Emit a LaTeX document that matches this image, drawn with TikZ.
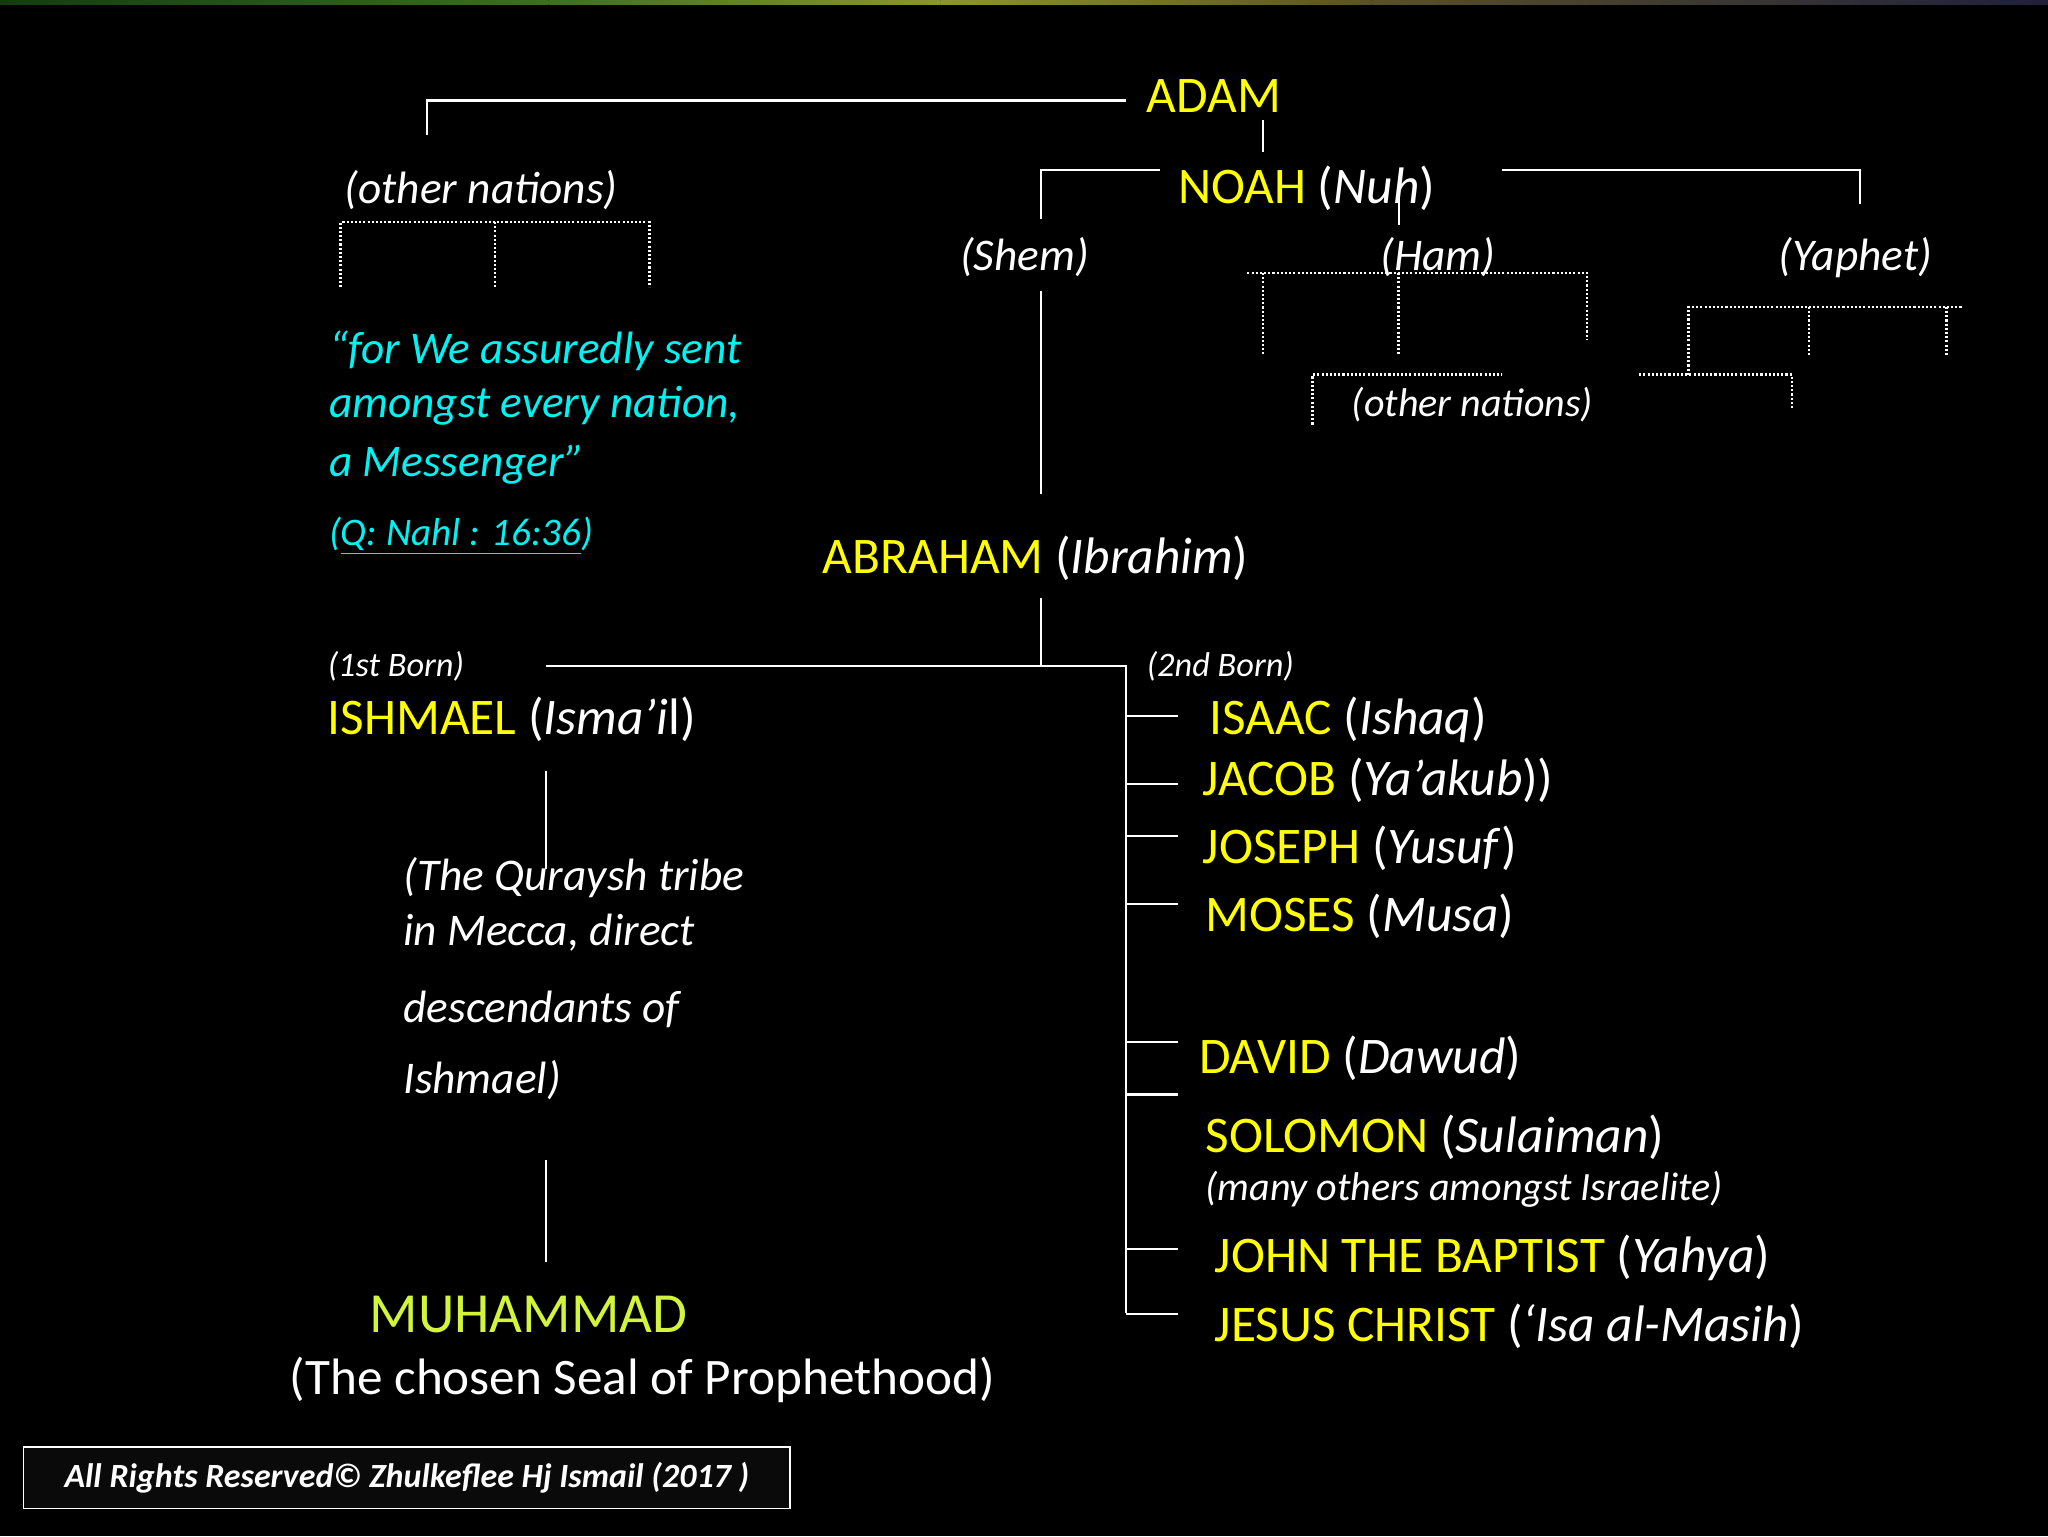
\documentclass[tikz,border=0pt]{standalone}
\usepackage{fontspec}
\setmainfont{Carlito}
\usepackage{xcolor}
\usetikzlibrary{calc}

\definecolor{nameyellow}{HTML}{FFFF00}
\definecolor{sealgreen}{HTML}{D2F53C}
\definecolor{versecyan}{HTML}{00F2F2}

\begin{document}
\begin{tikzpicture}[x=1pt, y=-1pt,
  every node/.style={inner sep=0pt, outer sep=0pt, text=white, anchor=base west},
  prophet/.style={font=\fontsize{39.3}{45}\selectfont},
  branch/.style={font=\fontsize{34.7}{40}\selectfont\itshape},
  born/.style={font=\fontsize{26.3}{31}\selectfont\itshape},
  link/.style={draw=white, line width=1.8pt},
  dots/.style={draw=white, line width=2.2pt, dash pattern=on 1.6pt off 1.6pt}]

% background and top bar
\fill[black] (0,0) rectangle (1568,1176);
\useasboundingbox (0,0) rectangle (1568,1176);
\shade[left color={rgb,255:red,20;green,60;blue,15}, right color={rgb,255:red,60;green,110;blue,40}] (0,0) rectangle (420,3.5);
\shade[left color={rgb,255:red,60;green,110;blue,40}, right color={rgb,255:red,140;green,150;blue,40}] (420,0) rectangle (720,3.5);
\shade[left color={rgb,255:red,140;green,150;blue,40}, right color={rgb,255:red,90;green,80;blue,40}] (720,0) rectangle (1050,3.5);
\shade[left color={rgb,255:red,90;green,80;blue,40}, right color={rgb,255:red,30;green,32;blue,60}] (1050,0) rectangle (1568,3.5);

% names
\node[prophet, text=nameyellow] (adam) at (878,86) {ADAM};
\node[prophet] (noah) at (902,156) {{\color{nameyellow}NOAH} (\textit{Nuh})};
\node[branch] (others1) at (264,156) {(other nations)};
\node[branch] (shem) at (735,207) {(Shem)};
\node[branch] (ham) at (1057,207) {(Ham)};
\node[branch] (yaphet) at (1362,207) {(Yaphet)};
\node[font=\fontsize{30.7}{36}\selectfont\itshape] (others2) at (1035,319) {(other nations)};

\node[branch, text=versecyan] (verse1) at (252,278) {“for We assuredly sent};
\node[branch, text=versecyan] (verse2) at (252,320) {amongst every nation,};
\node[branch, text=versecyan] (verse3) at (252,365) {a Messenger”};
\node[font=\fontsize{29.9}{35}\selectfont\itshape, text=versecyan] (surah) at (252,418) {(\underline{Q: Nahl : 16:36})};

\node[prophet] (abraham) at (630,439) {{\color{nameyellow}ABRAHAM} (\textit{Ibrahim})};
\node[born] (first) at (251,518) {(1st Born)};
\node[born] (second) at (878,518) {(2nd Born)};
\node[prophet] (ishmael) at (251,562) {{\color{nameyellow}ISHMAEL} (\textit{Isma’i}l)};

\node[branch] (quraysh1) at (309,682) {(The Quraysh tribe};
\node[branch] (quraysh2) at (309,724) {in Mecca, direct};
\node[branch] (quraysh3) at (309,783) {descendants of};
\node[branch] (quraysh4) at (309,837) {Ishmael)};

\node[font=\fontsize{43.4}{50}\selectfont, text=sealgreen] (muhammad) at (283,1020) {MUHAMMAD};
\node[font=\fontsize{39.2}{46}\selectfont] (seal) at (222,1068) {(The chosen Seal of Prophethood)};

\node[prophet] (isaac) at (926,562) {{\color{nameyellow}ISAAC} (\textit{Ishaq})};
\node[prophet] (jacob) at (921,609) {{\color{nameyellow}JACOB} (\textit{Ya’akub}))};
\node[prophet] (joseph) at (921,661) {{\color{nameyellow}JOSEPH} (\textit{Yusuf})};
\node[prophet] (moses) at (923,713) {{\color{nameyellow}MOSES} (\textit{Musa})};
\node[prophet] (david) at (918,822) {{\color{nameyellow}DAVID} (\textit{Dawud})};
\node[prophet] (solomon) at (923,882) {{\color{nameyellow}SOLOMON} (\textit{Sulaiman})};
\node[font=\fontsize{30.7}{36}\selectfont\itshape] (israelite) at (923,919) {(many others amongst Israelite)};
\node[prophet] (john) at (930,974) {{\color{nameyellow}JOHN THE BAPTIST} (\textit{Yahya})};
\node[prophet] (jesus) at (930,1027) {{\color{nameyellow}JESUS CHRIST} (\textit{‘Isa al-Masih})};

\node[draw=white, line width=1.2pt, fill={rgb,255:red,10;green,10;blue,10}, minimum width=587pt, minimum height=47pt, anchor=center, font=\fontsize{26}{30}\selectfont\bfseries\itshape] (rights) at (311.5,1131.5) {All Rights Reserved© Zhulkeflee Hj Ismail (2017 )};

% connector ends
\coordinate (a1) at (862,77);
\coordinate (a2) at (327,103);
\coordinate (a3) at (967,92);
\coordinate (a4) at (967,116);
\coordinate (n1) at (888,130);
\coordinate (n2) at (797,168);
\coordinate (n3) at (1150,130);
\coordinate (n4) at (1424,156);
\coordinate (n5) at (1071,145);
\coordinate (n6) at (1071,172);
\coordinate (s1) at (797,223);
\coordinate (s2) at (797,378);
\coordinate (b1) at (797,458);
\coordinate (b2) at (797,510);
\coordinate (b3) at (418,510);
\coordinate (b4) at (862,1005);
\coordinate (i1) at (418,590);
\coordinate (i2) at (418,665);
\coordinate (q1) at (418,888);
\coordinate (q2) at (418,966);

% solid lines
\draw[link] (a1) -| (a2);
\draw[link] (a3) -- (a4);
\draw[link] (n1) -| (n2);
\draw[link] (n3) -| (n4);
\draw[link] (n5) -- (n6);
\draw[link] (s1) -- (s2);
\draw[link] (b1) -- (b2);
\draw[link] (b3) -| (b4);
\draw[link] (i1) -- (i2);
\draw[link] (q1) -- (q2);
\foreach \y in {548,600,640,692,798,838,956,1006}
  \draw[link] (862,\y) -- (902,\y);

% dotted nations
\draw[dots] (261,220) -- (261,170) -- (497,170) -- (497,220);
\draw[dots] (379,170) -- (379,220);
\draw[dots] (955,209) -- (1215,209) -- (1215,260);
\draw[dots] (967,209) -- (967,272);
\draw[dots] (1071,209) -- (1071,272);
\draw[dots] (1005,325) -- (1005,287) -- (1150,287);
\draw[dots] (1293,287) -- (1293,235) -- (1502,235);
\draw[dots] (1385,235) -- (1385,272);
\draw[dots] (1490,235) -- (1490,272);
\draw[dots] (1255,287) -- (1372,287) -- (1372,312);

\end{tikzpicture}
\end{document}
